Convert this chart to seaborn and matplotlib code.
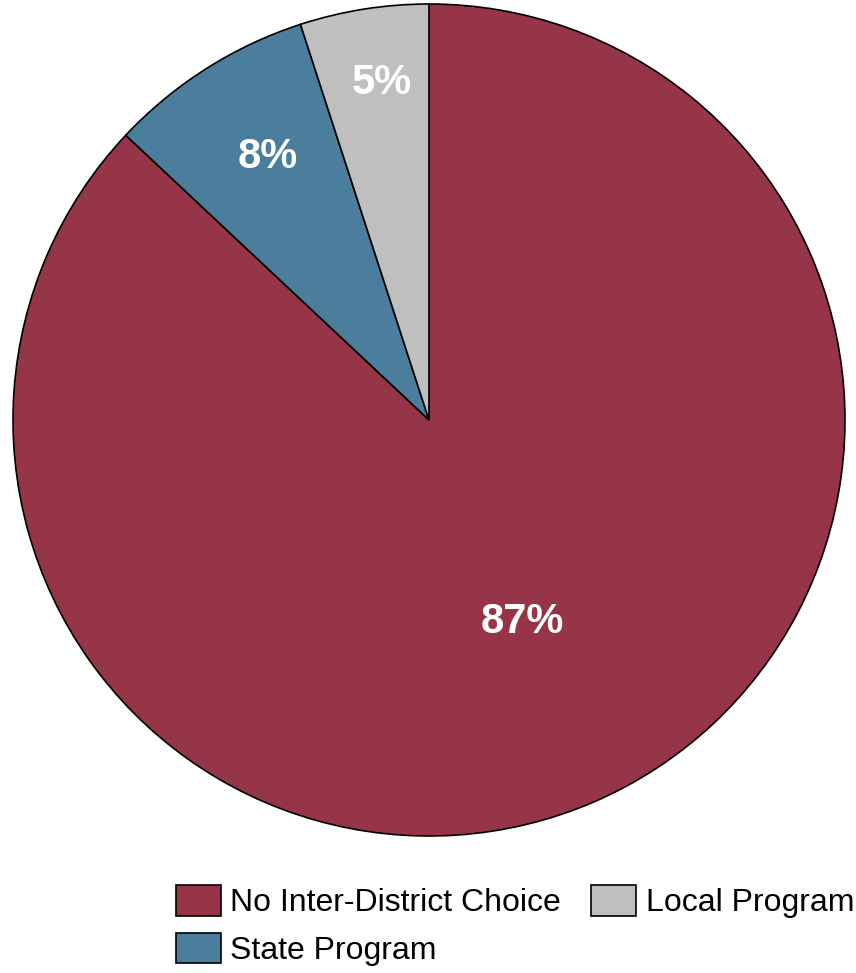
import numpy as np
import matplotlib.pyplot as plt
import seaborn as sns

# Share of districts by inter-district choice program
categories = ['No Inter-District Choice', 'State Program', 'Local Program']
shares = [87, 8, 5]
pct_labels = ['87%', '8%', '5%']
colors = ['#963548', '#4A7E9C', '#BFBFBF']
label_dist = [0.53, 0.75, 0.82]

sns.set_style('white')
plt.rcParams['font.family'] = ['Liberation Sans', 'DejaVu Sans']
plt.rcParams['text.color'] = 'black'

fig = plt.figure(figsize=(8.56, 9.73), dpi=100)
ax = fig.add_axes([13 / 856, 137 / 973, 832 / 856, 832 / 973])

wedges, _ = ax.pie(shares, colors=colors, startangle=90, counterclock=False,
                   wedgeprops=dict(edgecolor='black', linewidth=1.2))
ax.set_xlim(-1, 1)
ax.set_ylim(-1, 1)
ax.set_aspect('equal')
ax.axis('off')

# percentage labels placed along each wedge's middle angle
for w, txt, d in zip(wedges, pct_labels, label_dist):
    ang = np.deg2rad((w.theta1 + w.theta2) / 2)
    ax.text(d * np.cos(ang) + 0.015, d * np.sin(ang), txt, ha='center', va='center',
            color='white', fontsize=30, fontweight='bold')

fig.legend(wedges, categories, ncol=2, frameon=False, fontsize=23,
           loc='upper left', bbox_to_anchor=(176 / 856, 1 - 885 / 973),
           borderaxespad=0, borderpad=0, handlelength=1.4, handleheight=1.1,
           handletextpad=0.3, columnspacing=0.95, labelspacing=0.45,
           labelcolor='black')

plt.savefig('out.png', dpi=100)
plt.close()
